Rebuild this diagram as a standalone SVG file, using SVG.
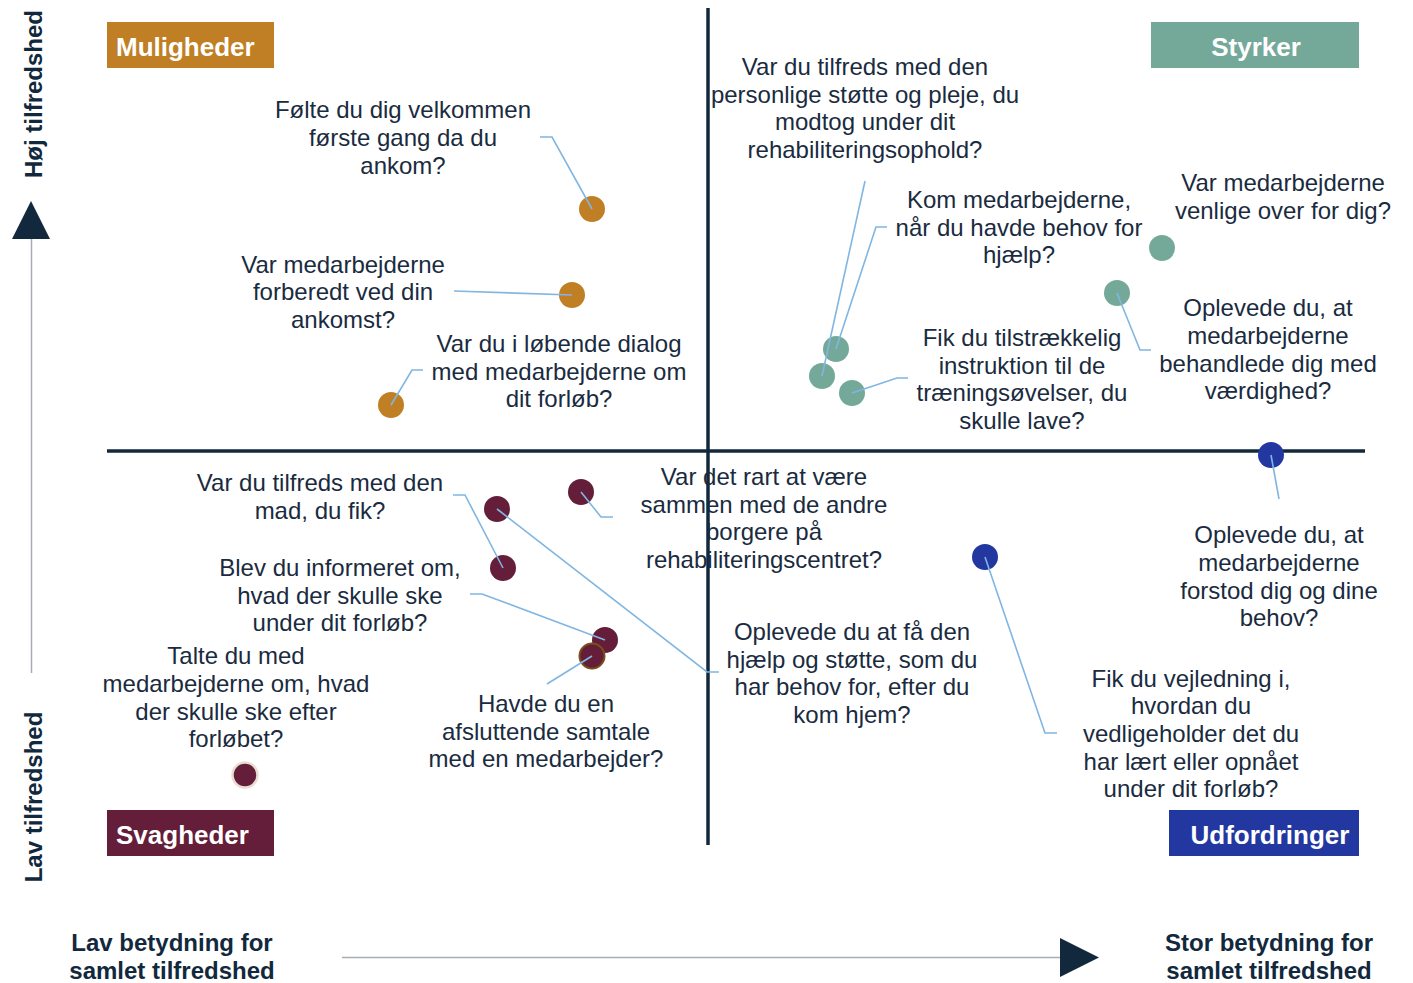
<svg xmlns="http://www.w3.org/2000/svg" width="1413" height="983" viewBox="0 0 1413 983">
<style>
.q{font-family:"Liberation Sans",Arial,sans-serif;font-size:24px;fill:#1A2B40;text-anchor:middle}
.ax{font-family:"Liberation Sans",Arial,sans-serif;font-size:24px;font-weight:bold;fill:#12283D;text-anchor:middle}
.hd{font-family:"Liberation Sans",Arial,sans-serif;font-size:26px;font-weight:bold;fill:#FFFFFF}
.c{fill:none;stroke:#80B6E1;stroke-width:1.6}
.or{fill:#C07F25}.gr{fill:#74A99A}.bl{fill:#2238A0}.mr{fill:#641E3A}
</style>
<rect width="1413" height="983" fill="#FFFFFF"/>
<g id="axes">
<line x1="708" y1="8" x2="708" y2="845" stroke="#12283D" stroke-width="3.5"/>
<line x1="107" y1="451" x2="1365" y2="451" stroke="#12283D" stroke-width="3.5"/>
<line x1="31.5" y1="238" x2="31.5" y2="673" stroke="#A6ADB4" stroke-width="1.5"/>
<polygon points="31,201 50,239 12,239" fill="#12283D"/>
<line x1="342" y1="957.5" x2="1061" y2="957.5" stroke="#A6ADB4" stroke-width="1.5"/>
<polygon points="1060,938 1099,957.5 1060,977" fill="#12283D"/>
<text class="ax" transform="translate(42,94) rotate(-90)">Høj tilfredshed</text>
<text class="ax" transform="translate(42,797) rotate(-90)">Lav tilfredshed</text>
<text class="ax" x="172" y="951">Lav betydning for</text>
<text class="ax" x="172" y="979">samlet tilfredshed</text>
<text class="ax" x="1269" y="951">Stor betydning for</text>
<text class="ax" x="1269" y="979">samlet tilfredshed</text>
</g>
<g id="quadrant-labels">
<g id="muligheder"><rect x="107" y="22" width="167" height="46" fill="#C07F25"/><text class="hd" x="116" y="56">Muligheder</text></g>
<g id="styrker"><rect x="1151" y="22" width="208" height="46" fill="#74A99A"/><text class="hd" x="1256" y="56" text-anchor="middle">Styrker</text></g>
<g id="svagheder"><rect x="107" y="810" width="167" height="46" fill="#641E3A"/><text class="hd" x="116" y="844">Svagheder</text></g>
<g id="udfordringer"><rect x="1169" y="810" width="190" height="46" fill="#2238A0"/><text class="hd" x="1270" y="844" text-anchor="middle">Udfordringer</text></g>
</g>
<g id="dots">
<circle id="d1" class="or" cx="592" cy="209" r="13"/>
<circle id="d2" class="or" cx="572" cy="295" r="13"/>
<circle id="d3" class="or" cx="391" cy="405" r="13"/>
<circle id="d4" class="gr" cx="1162" cy="248" r="13"/>
<circle id="d5" class="gr" cx="1117" cy="293" r="13"/>
<circle id="d6" class="gr" cx="836" cy="349" r="13"/>
<circle id="d7" class="gr" cx="822" cy="376" r="13"/>
<circle id="d8" class="gr" cx="852" cy="393" r="13"/>
<circle id="d9" class="bl" cx="1271" cy="455" r="13"/>
<circle id="d10" class="bl" cx="985" cy="557" r="13"/>
<circle id="d11" class="mr" cx="581" cy="492" r="13"/>
<circle id="d12" class="mr" cx="497" cy="509" r="13"/>
<circle id="d13" class="mr" cx="503" cy="568" r="13"/>
<circle id="d14" class="mr" cx="605" cy="640" r="13"/>
<circle id="d15" class="mr" cx="592" cy="656" r="12.5" stroke="#7A5018" stroke-width="2"/>
<circle id="d16" class="mr" cx="245" cy="775" r="12.5" stroke="#E9DDD3" stroke-width="2.5"/>
</g>
<g id="connectors">
<polyline class="c" points="540,137 552,137 592,209"/>
<polyline class="c" points="454,291 572,295"/>
<polyline class="c" points="423,370 412,370 391,405"/>
<polyline class="c" points="865,181 822,376"/>
<polyline class="c" points="887,227 876,227 836,349"/>
<polyline class="c" points="908,378 897,378 852,393"/>
<polyline class="c" points="1117,293 1140,350 1151,350"/>
<polyline class="c" points="613,517 601,517 581,492"/>
<polyline class="c" points="453,495 465,495 503,568"/>
<polyline class="c" points="470,594 482,594 605,640"/>
<polyline class="c" points="497,509 707,672 719,672"/>
<polyline class="c" points="547,684 592,656"/>
<polyline class="c" points="1271,455 1279,499"/>
<polyline class="c" points="985,557 1045,733 1057,733"/>
</g>
<g id="q1"><text class="q" x="403" y="118">Følte du dig velkommen</text><text class="q" x="403" y="146">første gang da du</text><text class="q" x="403" y="174">ankom?</text></g>
<g id="q2"><text class="q" x="343" y="273">Var medarbejderne</text><text class="q" x="343" y="300">forberedt ved din</text><text class="q" x="343" y="328">ankomst?</text></g>
<g id="q3"><text class="q" x="559" y="352">Var du i løbende dialog</text><text class="q" x="559" y="380">med medarbejderne om</text><text class="q" x="559" y="407">dit forløb?</text></g>
<g id="q4"><text class="q" x="865" y="75">Var du tilfreds med den</text><text class="q" x="865" y="103">personlige støtte og pleje, du</text><text class="q" x="865" y="130">modtog under dit</text><text class="q" x="865" y="158">rehabiliteringsophold?</text></g>
<g id="q5"><text class="q" x="1019" y="208">Kom medarbejderne,</text><text class="q" x="1019" y="236">når du havde behov for</text><text class="q" x="1019" y="263">hjælp?</text></g>
<g id="q6"><text class="q" x="1283" y="191">Var medarbejderne</text><text class="q" x="1283" y="219">venlige over for dig?</text></g>
<g id="q7"><text class="q" x="1268" y="316">Oplevede du, at</text><text class="q" x="1268" y="344">medarbejderne</text><text class="q" x="1268" y="372">behandlede dig med</text><text class="q" x="1268" y="399">værdighed?</text></g>
<g id="q8"><text class="q" x="1022" y="346">Fik du tilstrækkelig</text><text class="q" x="1022" y="374">instruktion til de</text><text class="q" x="1022" y="401">træningsøvelser, du</text><text class="q" x="1022" y="429">skulle lave?</text></g>
<g id="q9"><text class="q" x="764" y="485">Var det rart at være</text><text class="q" x="764" y="513">sammen med de andre</text><text class="q" x="764" y="540">borgere på</text><text class="q" x="764" y="568">rehabiliteringscentret?</text></g>
<g id="q10"><text class="q" x="320" y="491">Var du tilfreds med den</text><text class="q" x="320" y="519">mad, du fik?</text></g>
<g id="q11"><text class="q" x="340" y="576">Blev du informeret om,</text><text class="q" x="340" y="604">hvad der skulle ske</text><text class="q" x="340" y="631">under dit forløb?</text></g>
<g id="q12"><text class="q" x="236" y="664">Talte du med</text><text class="q" x="236" y="692">medarbejderne om, hvad</text><text class="q" x="236" y="720">der skulle ske efter</text><text class="q" x="236" y="747">forløbet?</text></g>
<g id="q13"><text class="q" x="546" y="712">Havde du en</text><text class="q" x="546" y="740">afsluttende samtale</text><text class="q" x="546" y="767">med en medarbejder?</text></g>
<g id="q14"><text class="q" x="852" y="640">Oplevede du at få den</text><text class="q" x="852" y="668">hjælp og støtte, som du</text><text class="q" x="852" y="695">har behov for, efter du</text><text class="q" x="852" y="723">kom hjem?</text></g>
<g id="q15"><text class="q" x="1279" y="543">Oplevede du, at</text><text class="q" x="1279" y="571">medarbejderne</text><text class="q" x="1279" y="599">forstod dig og dine</text><text class="q" x="1279" y="626">behov?</text></g>
<g id="q16"><text class="q" x="1191" y="687">Fik du vejledning i,</text><text class="q" x="1191" y="714">hvordan du</text><text class="q" x="1191" y="742">vedligeholder det du</text><text class="q" x="1191" y="770">har lært eller opnået</text><text class="q" x="1191" y="797">under dit forløb?</text></g>
</svg>
